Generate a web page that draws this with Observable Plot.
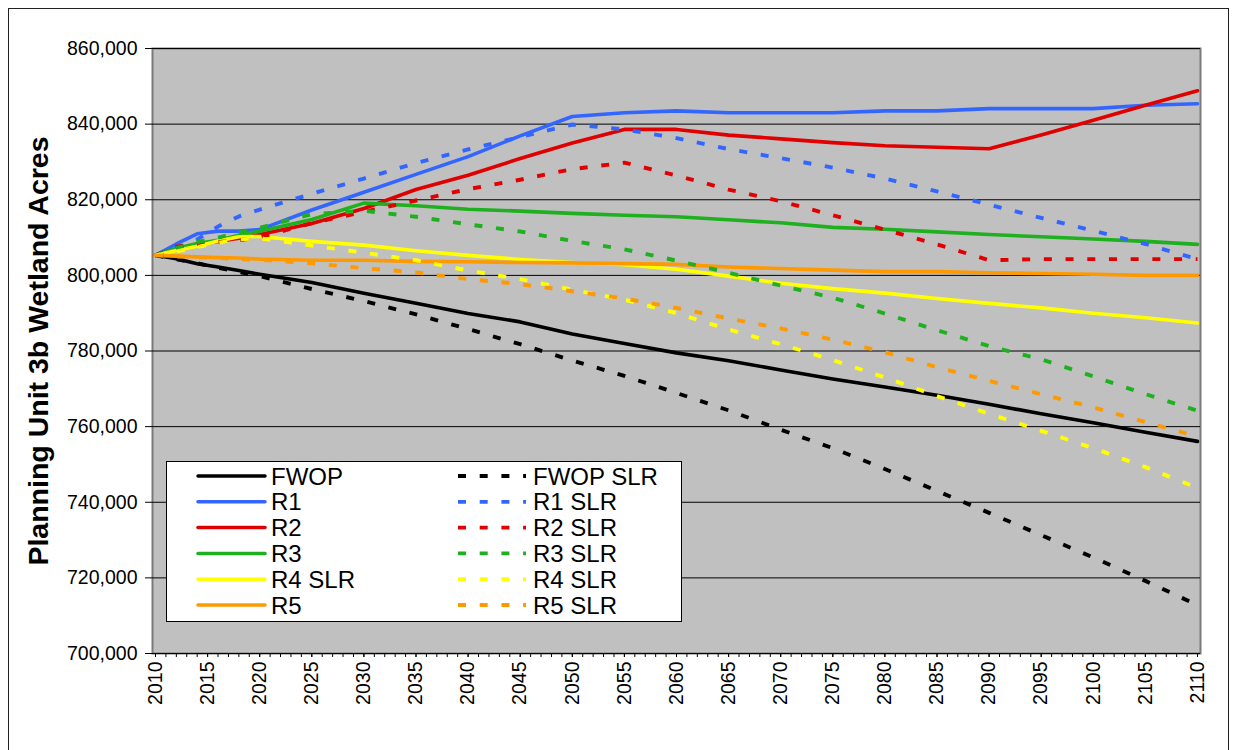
<!DOCTYPE html>
<html>
<head>
<meta charset="utf-8">
<script src="https://cdn.jsdelivr.net/npm/d3@7"></script>
<script src="https://cdn.jsdelivr.net/npm/@observablehq/plot@0.6"></script>
<style>
  body { margin: 0; background: #fff; }
  #wrap { position: relative; width: 1236px; height: 750px; overflow: hidden; font-family: Arial, "Liberation Sans", sans-serif; }
  #border { position: absolute; left: 8px; top: 8px; width: 1221px; height: 800px; border: 1.5px solid #222; box-sizing: border-box; }
  #chart { position: absolute; left: 0; top: 0; }
  #legend { position: absolute; left: 166px; top: 461px; }
</style>
</head>
<body>
<div id="wrap">
  <div id="border"></div>
  <div id="chart"></div>
  <div id="legend"></div>
</div>
<script>
// ---- data (acres) ----
const years = [2010, 2012, 2014, 2016, 2018, 2020, 2025, 2030, 2035, 2040, 2045, 2050, 2055, 2060, 2065, 2070, 2075, 2080, 2085, 2090, 2095, 2100, 2105, 2110];

const fwop    = [805300, 804400, 803100, 802200, 801300, 800300, 798100, 795300, 792600, 789900, 787700, 784500, 782000, 779500, 777400, 775000, 772600, 770500, 768300, 765900, 763400, 761000, 758500, 756100];
const r1      = [805300, 808300, 811000, 811700, 811700, 812100, 817300, 822000, 826700, 831400, 836900, 842000, 843000, 843500, 843000, 843000, 843000, 843500, 843500, 844100, 844100, 844100, 845000, 845400];
const r2      = [805300, 807000, 808200, 809000, 809800, 810800, 813700, 817700, 822700, 826500, 830900, 835000, 838600, 838600, 837100, 836100, 835100, 834300, 833900, 833500, 837100, 841000, 845000, 848800];
const r3      = [805300, 807100, 808400, 809300, 810600, 811700, 814800, 819100, 818400, 817500, 817000, 816400, 815900, 815500, 814700, 813900, 812700, 812200, 811500, 810800, 810200, 809600, 809000, 808200];
const r4      = [805300, 806600, 807700, 809100, 810200, 810300, 809000, 808000, 806500, 805300, 804200, 803400, 802800, 801600, 799800, 797900, 796500, 795300, 793900, 792600, 791400, 790000, 788800, 787400];
const r5      = [805300, 805100, 804900, 804700, 804600, 804300, 804000, 804000, 803700, 803600, 803400, 803300, 803100, 802900, 802200, 801800, 801400, 801000, 801000, 800700, 800500, 800300, 800000, 800000];
const fwopSLR = [805300, 804300, 803200, 802000, 800900, 799800, 796400, 793200, 789700, 785800, 781800, 777500, 773400, 768900, 764300, 759200, 754300, 748800, 743000, 737200, 731300, 725400, 719200, 712800];
const r1SLR   = [805300, 807200, 809500, 812900, 815600, 817400, 821600, 825600, 829700, 833300, 836600, 839900, 838600, 836300, 833400, 831000, 828500, 825600, 822200, 818700, 815200, 811800, 808300, 804300];
const r2SLR   = [805300, 807600, 808300, 808800, 809300, 810100, 813800, 816800, 819800, 822800, 825300, 828100, 829800, 826400, 822700, 819600, 815900, 812100, 808200, 804000, 804300, 804300, 804300, 804300];
const r3SLR   = [805300, 807200, 808800, 810000, 811300, 812600, 816200, 817100, 815500, 813500, 811600, 809100, 806900, 803900, 800700, 797300, 794100, 789900, 785500, 781300, 777800, 773300, 768600, 764200];
const r4SLR   = [805300, 806300, 807500, 808600, 809500, 809800, 807900, 806000, 804000, 801300, 799000, 796200, 793600, 790000, 785700, 781800, 777600, 773000, 768100, 763400, 758900, 754300, 749300, 743800];
const r5SLR   = [805300, 805000, 804800, 804600, 804300, 804100, 803200, 801900, 800800, 799000, 797700, 795800, 793900, 791400, 788600, 786000, 783000, 779700, 775700, 772100, 768600, 765100, 761200, 757400];

const solidLabels  = ["FWOP", "R1", "R2", "R3", "R4 SLR", "R5"];
const dashedLabels = ["FWOP SLR", "R1 SLR", "R2 SLR", "R3 SLR", "R4 SLR", "R5 SLR"];
const seriesColors = ["#000000", "#3366FF", "#E00000", "#1FB01F", "#FFFF00", "#FF9900"];
const solidValues  = [fwop, r1, r2, r3, r4, r5];
const dashedValues = [fwopSLR, r1SLR, r2SLR, r3SLR, r4SLR, r5SLR];

const yTicks = [700000, 720000, 740000, 760000, 780000, 800000, 820000, 840000, 860000];
const xLabelYears = [2010, 2015, 2020, 2025, 2030, 2035, 2040, 2045, 2050, 2055, 2060, 2065, 2070, 2075, 2080, 2085, 2090, 2095, 2100, 2105, 2110];
const xTickYears = d3.range(2010, 2111);
const yTitle = "Planning Unit 3b Wetland Acres";

// ---- build rows ----
function toRows(valuesList, labels, kind) {
  const out = [];
  valuesList.forEach((vals, s) => vals.forEach((v, i) => out.push({
    id: kind + ":" + labels[s], year: years[i], value: v, color: seriesColors[s]
  })));
  return out;
}
const solidRows = toRows(solidValues, solidLabels, "solid");
const dashedRows = toRows(dashedValues, dashedLabels, "dashed");

const FONT = "Arial, 'Liberation Sans', sans-serif";

const chart = Plot.plot({
  width: 1236,
  height: 750,
  marginLeft: 152,
  marginRight: 36,
  marginTop: 48,
  marginBottom: 97,
  x: {domain: [2010, 2110], insetLeft: 3, insetRight: 3},
  y: {domain: [700000, 860000]},
  color: {type: "identity"},
  style: {fontFamily: FONT, fontSize: "19.5px", background: "transparent", color: "#000", overflow: "visible"},
  marks: [
    Plot.frame({fill: "#C0C0C0", stroke: "#7a7a7a", strokeWidth: 2}),
    Plot.gridY(yTicks, {stroke: "#000", strokeOpacity: 1, strokeWidth: 1}),
    Plot.axisY(yTicks, {tickSize: 7, tickPadding: 8, tickFormat: d3.format(","), label: null, stroke: "#000", fill: "#000"}),
    Plot.axisX(xTickYears, {tickSize: 4, tickFormat: () => "", label: null, stroke: "#000"}),
    Plot.axisX(xLabelYears, {tickSize: 4, tickPadding: 4, tickRotate: -90, tickFormat: d => String(d), label: null, stroke: "#000", fill: "#000"}),
    Plot.line(solidRows, {x: "year", y: "value", z: "id", stroke: "color", strokeWidth: 3.6, strokeLinejoin: "round", strokeLinecap: "round"}),
    Plot.line(dashedRows, {x: "year", y: "value", z: "id", stroke: "color", strokeWidth: 3.9, strokeDasharray: "8,13.7", strokeLinecap: "butt"}),
    Plot.text([yTitle], {text: d => d, frameAnchor: "left", textAnchor: "middle", lineAnchor: "middle", rotate: -90, dx: -114, fontWeight: "bold", fontSize: 28.5, fill: "#000"})
  ]
});
document.getElementById("chart").appendChild(chart);

// ---- legend ----
const lw = 516, lh = 161;
const leg = d3.select("#legend").append("svg").attr("width", lw).attr("height", lh)
  .style("font-family", FONT);
leg.append("rect").attr("x", 0.5).attr("y", 0.5).attr("width", lw - 1).attr("height", lh - 1)
  .attr("fill", "#fff").attr("stroke", "#000").attr("stroke-width", 1);
const rowY = i => 15 + i * 25.8;
solidLabels.forEach((lab, i) => {
  leg.append("line").attr("x1", 32).attr("x2", 99).attr("y1", rowY(i)).attr("y2", rowY(i))
    .attr("stroke", seriesColors[i]).attr("stroke-width", 3.5).attr("stroke-linecap", "round");
  leg.append("text").attr("x", 105).attr("y", rowY(i)).attr("dy", "0.36em")
    .attr("font-size", 24).attr("fill", "#000").text(lab);
});
dashedLabels.forEach((lab, i) => {
  leg.append("line").attr("x1", 292).attr("x2", 360).attr("y1", rowY(i)).attr("y2", rowY(i))
    .attr("stroke", seriesColors[i]).attr("stroke-width", 3.8).attr("stroke-dasharray", "8,13.7");
  leg.append("text").attr("x", 367).attr("y", rowY(i)).attr("dy", "0.36em")
    .attr("font-size", 24).attr("fill", "#000").text(lab);
});
</script>
</body>
</html>
